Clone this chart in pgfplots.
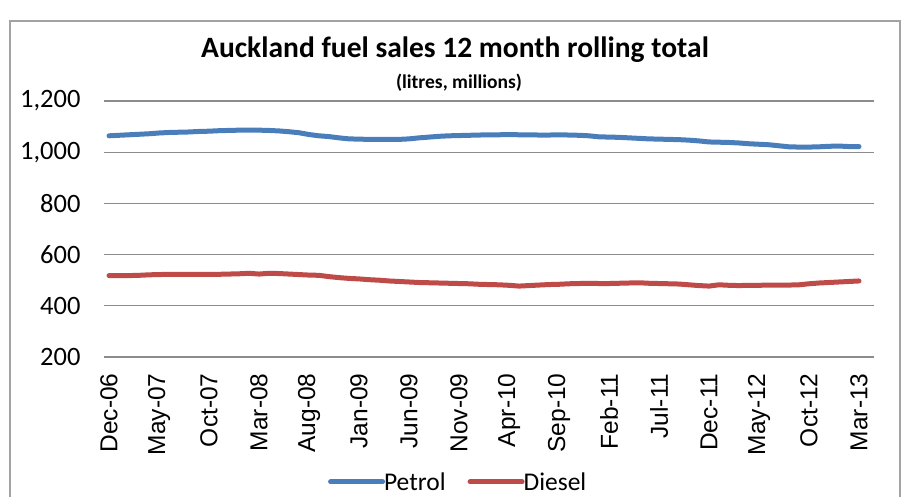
\documentclass[border=0pt]{standalone}
\usepackage{fontspec}
\setmainfont{Carlito}
\newfontfamily\arialf{Liberation Sans}
\usepackage{pgfplots}
\pgfplotsset{compat=1.18}
\definecolor{petrol}{HTML}{4A7EBB}
\definecolor{diesel}{HTML}{BE4B48}
\definecolor{gridc}{HTML}{8C8C8C}
\begin{document}
\begin{tikzpicture}
\useasboundingbox (0pt,0pt) rectangle (903pt,497pt);
\draw[gridc!80, line width=1.2pt] (10pt,-5pt) -- (10pt,476pt) -- (900pt,476pt) -- (900pt,-5pt);
\node[font=\fontsize{29.5}{33}\selectfont\bfseries] at (455pt,447pt) {Auckland fuel sales 12 month rolling total};
\node[font=\fontsize{19.5}{22}\selectfont\bfseries] at (459pt,414pt) {(litres, millions)};
\begin{axis}[
  at={(104pt,140pt)}, anchor=south west,
  scale only axis, width=770pt, height=256pt,
  xmin=-0.5, xmax=76.5, ymin=200, ymax=1200,
  separate axis lines,
  axis line style={draw=none},
  ymajorgrids, grid style={gridc, line width=1.3pt},
  major tick length=0pt,
  ytick={200,400,...,1200},
  /pgf/number format/1000 sep={,},
  /pgf/number format/assume math mode=true,
  yticklabel style={font=\fontsize{26.5}{30}\selectfont, xshift=-20pt},
  xtick={0,5,...,75},
  xticklabels={Dec-06,May-07,Oct-07,Mar-08,Aug-08,Jan-09,Jun-09,Nov-09,Apr-10,Sep-10,Feb-11,Jul-11,Dec-11,May-12,Oct-12,Mar-13},
  xticklabel style={font=\arialf\fontsize{24.5}{27}\selectfont, rotate=90, anchor=east, xshift=-13pt},
  legend style={at={(0.46,-0.488)}, anchor=center, draw=none, legend columns=2,
    font=\fontsize{25.5}{28}\selectfont, inner sep=0pt,
    /tikz/every even column/.append style={column sep=20pt},
    /tikz/every odd column/.append style={column sep=-3pt}},
  legend image code/.code={\draw[#1] (0pt,0pt) -- (52pt,0pt);},
]
\addplot[petrol, line width=5pt, line join=round, line cap=round] coordinates {
(0,1064)(1,1066)(2,1068)(3,1070)(4,1072)(5,1075)(6,1077)(7,1078)(8,1079)(9,1081)
(10,1082)(11,1084)(12,1085)(13,1086)(14,1086)(15,1086)(16,1085)(17,1083)(18,1080)(19,1076)
(20,1069)(21,1064)(22,1061)(23,1056)(24,1052)(25,1051)(26,1050)(27,1050)(28,1050)(29,1050)
(30,1052)(31,1056)(32,1059)(33,1062)(34,1064)(35,1065)(36,1066)(37,1067)(38,1068)(39,1068)
(40,1069)(41,1068)(42,1068)(43,1067)(44,1067)(45,1068)(46,1067)(47,1066)(48,1064)(49,1060)
(50,1059)(51,1058)(52,1056)(53,1054)(54,1052)(55,1051)(56,1050)(57,1049)(58,1047)(59,1044)
(60,1040)(61,1039)(62,1038)(63,1036)(64,1033)(65,1031)(66,1029)(67,1025)(68,1021)(69,1020)
(70,1020)(71,1021)(72,1023)(73,1024)(74,1022)(75,1022)
};
\addlegendentry{Petrol}
\addplot[diesel, line width=5pt, line join=round, line cap=round] coordinates {
(0,518)(1,518)(2,518)(3,519)(4,521)(5,522)(6,523)(7,523)(8,523)(9,523)
(10,523)(11,523)(12,524)(13,525)(14,527)(15,524)(16,527)(17,526)(18,524)(19,522)
(20,520)(21,519)(22,514)(23,510)(24,507)(25,505)(26,502)(27,500)(28,497)(29,495)
(30,493)(31,491)(32,490)(33,489)(34,488)(35,487)(36,486)(37,484)(38,483)(39,482)
(40,480)(41,477)(42,479)(43,481)(44,483)(45,484)(46,486)(47,487)(48,488)(49,487)
(50,487)(51,488)(52,489)(53,490)(54,488)(55,487)(56,486)(57,485)(58,482)(59,479)
(60,477)(61,482)(62,480)(63,479)(64,480)(65,480)(66,481)(67,481)(68,481)(69,482)
(70,486)(71,489)(72,491)(73,493)(74,495)(75,497)
};
\addlegendentry{Diesel}
\end{axis}
\end{tikzpicture}
\end{document}
